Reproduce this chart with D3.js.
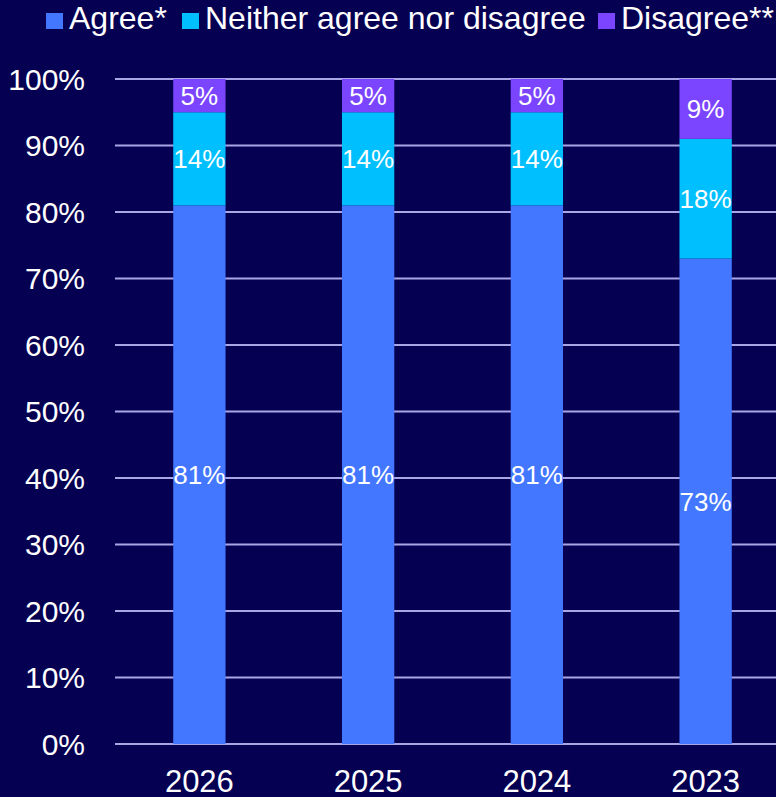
<!DOCTYPE html>
<html>
<head>
<meta charset="utf-8">
<script src="https://cdn.jsdelivr.net/npm/d3@7"></script>
<style>
  body { margin: 0; background: #060052; }
  svg { display: block; font-family: "Liberation Sans", Arial, sans-serif; }
</style>
</head>
<body>
<svg id="chart" width="776" height="797"></svg>
<script>
// Survey years and shares (%) per answer
const years = ["2026", "2025", "2024", "2023"];
const agree = [81, 81, 81, 73];
const neither = [14, 14, 14, 18];
const disagree = [5, 5, 5, 9];
const seriesNames = ["Agree*", "Neither agree nor disagree", "Disagree**"];
const yTicks = [0, 10, 20, 30, 40, 50, 60, 70, 80, 90, 100];

const colors = ["#4477ff", "#00bfff", "#7b45ff"];

const rows = years.map((y, i) => ({year: y, agree: agree[i], neither: neither[i], disagree: disagree[i]}));
const keys = ["agree", "neither", "disagree"];

const margin = {top: 79, right: -14, bottom: 53, left: 115},
      width = 776 - margin.left - margin.right,
      height = 797 - margin.top - margin.bottom;

const svg = d3.select("#chart");
const g = svg.append("g")
    .attr("transform", `translate(${margin.left},${margin.top})`);

const x = d3.scaleBand()
    .domain(years)
    .range([0, width])
    .paddingInner(0.69)
    .paddingOuter(0.345);

const y = d3.scaleLinear()
    .domain([0, 100])
    .range([height, 0]);

// gridlines
g.selectAll(".grid")
    .data(yTicks)
    .enter()
    .append("line")
    .attr("x1", 0)
    .attr("x2", width)
    .attr("y1", d => y(d))
    .attr("y2", d => y(d))
    .attr("stroke", "#a9a6e6")
    .attr("stroke-width", 2);

// y tick labels
g.selectAll(".ytick")
    .data(yTicks)
    .enter()
    .append("text")
    .attr("x", -30)
    .attr("y", d => y(d))
    .attr("dy", "0.36em")
    .attr("text-anchor", "end")
    .attr("fill", "#fff")
    .style("font-size", "30px")
    .text(d => d + "%");

// x labels
g.selectAll(".xtick")
    .data(years)
    .enter()
    .append("text")
    .attr("x", d => x(d) + x.bandwidth() / 2)
    .attr("y", height + 48)
    .attr("text-anchor", "middle")
    .attr("fill", "#fff")
    .style("font-size", "31px")
    .text(d => d);

// stacked bars
const stacked = d3.stack().keys(keys)(rows);

const layers = g.selectAll(".layer")
    .data(stacked)
    .enter()
    .append("g")
    .attr("fill", (d, i) => colors[i]);

layers.selectAll("rect")
    .data(d => d)
    .enter()
    .append("rect")
    .attr("x", d => x(d.data.year))
    .attr("y", d => y(d[1]))
    .attr("width", x.bandwidth())
    .attr("height", d => y(d[0]) - y(d[1]));

layers.selectAll("text")
    .data(d => d)
    .enter()
    .append("text")
    .attr("x", d => x(d.data.year) + x.bandwidth() / 2)
    .attr("y", d => y((d[0] + d[1]) / 2))
    .attr("dy", "0.36em")
    .attr("text-anchor", "middle")
    .attr("fill", "#fff")
    .style("font-size", "26px")
    .text(d => (d[1] - d[0]) + "%");

// legend
const legendX = [46, 182, 598];
const legend = svg.selectAll(".legend")
    .data(seriesNames)
    .enter()
    .append("g")
    .attr("transform", (d, i) => `translate(${legendX[i]},0)`);

legend.append("rect")
    .attr("x", 0)
    .attr("y", 13)
    .attr("width", 17)
    .attr("height", 16)
    .attr("fill", (d, i) => colors[i]);

legend.append("text")
    .attr("x", 23)
    .attr("y", 29)
    .attr("fill", "#fff")
    .style("font-size", "32px")
    .text(d => d);
</script>
</body>
</html>
